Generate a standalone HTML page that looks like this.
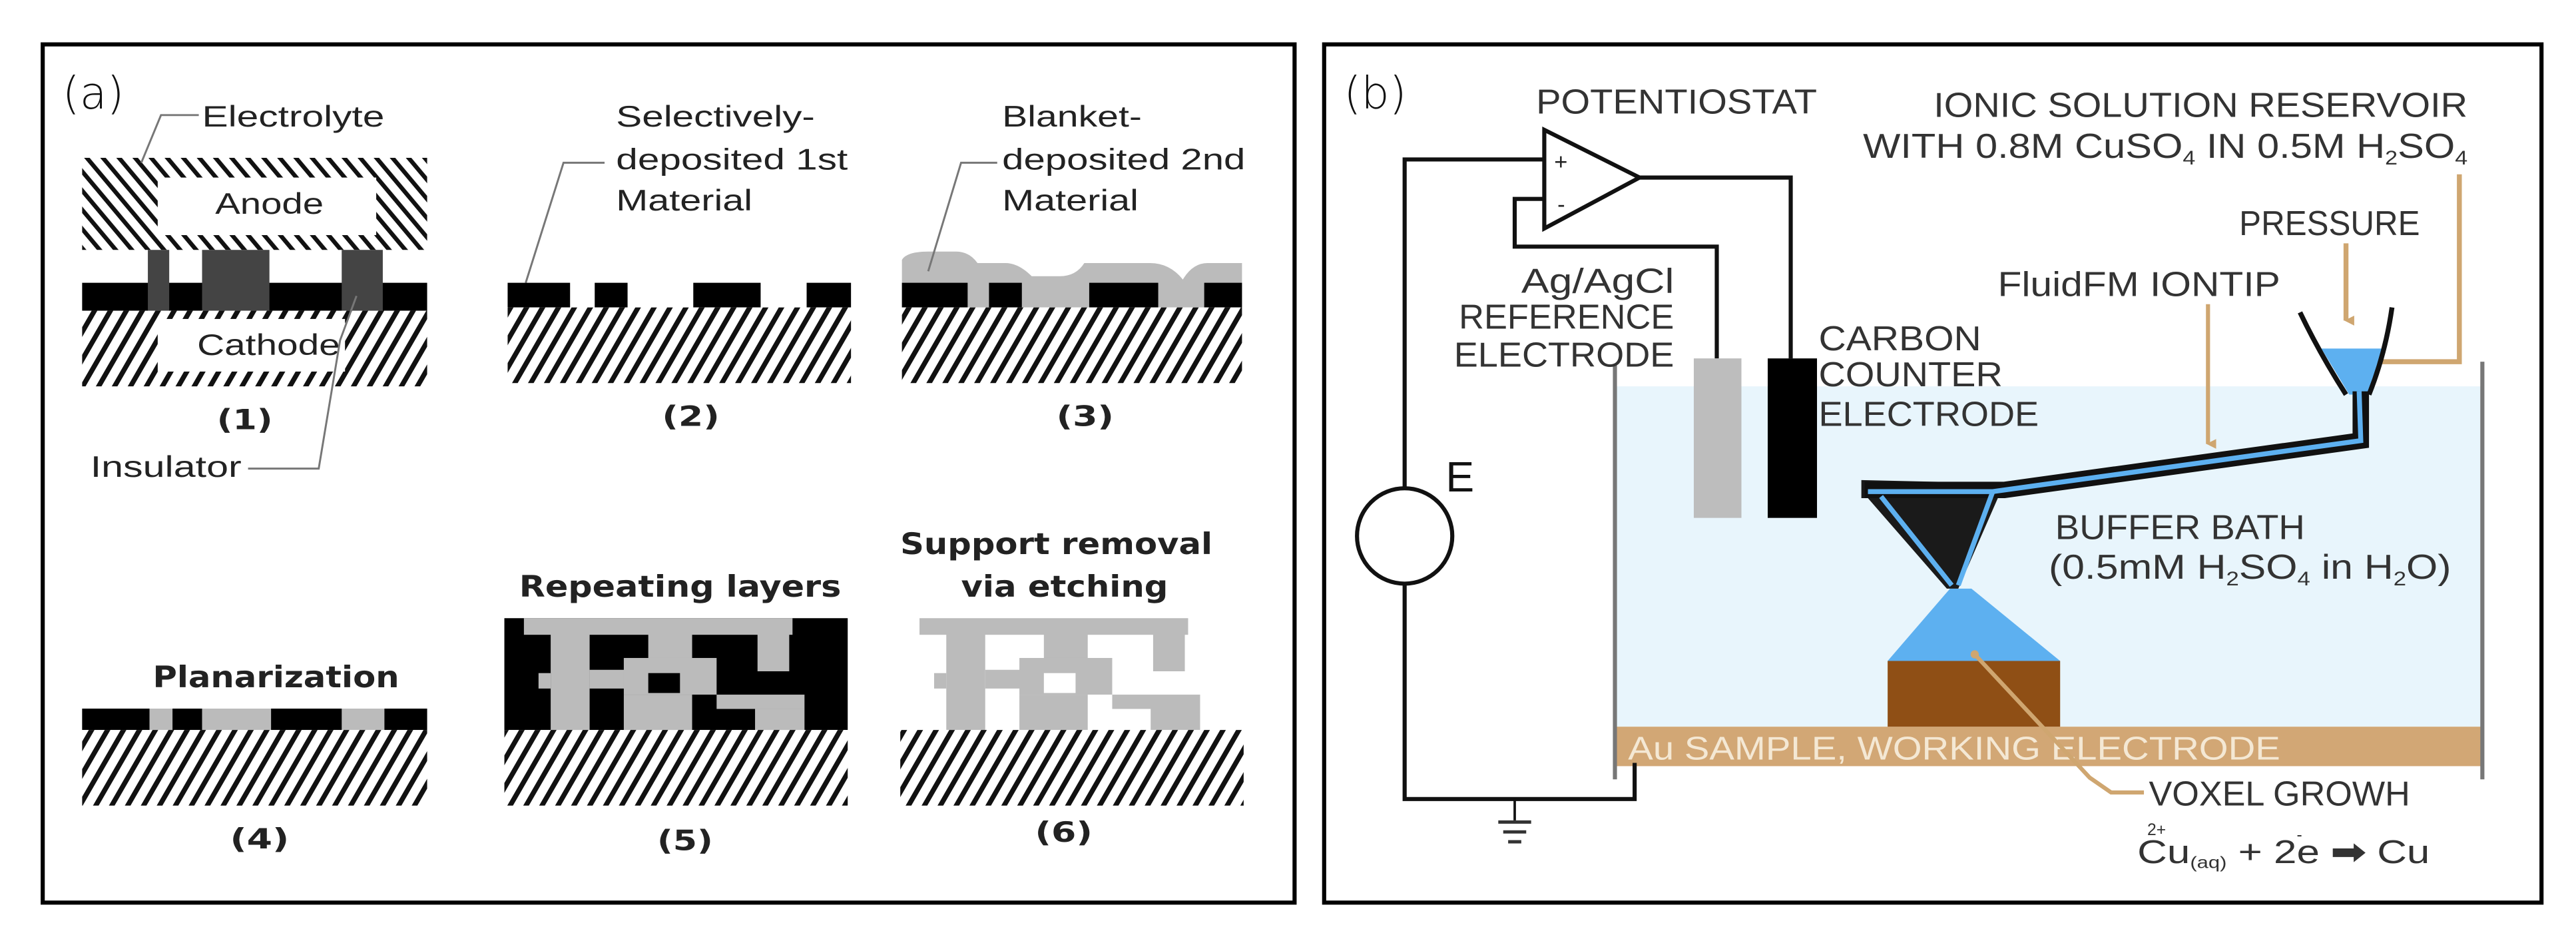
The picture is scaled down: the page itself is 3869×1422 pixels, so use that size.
<!DOCTYPE html>
<html><head><meta charset="utf-8"><style>html,body{margin:0;padding:0;background:#fff}svg{display:block}</style></head>
<body>
<svg width="3869" height="1422" viewBox="0 0 1568 576" preserveAspectRatio="none" xmlns="http://www.w3.org/2000/svg">
<defs>
<pattern id="h1" width="8.4" height="20" patternUnits="userSpaceOnUse" patternTransform="rotate(30)">
<rect width="8.4" height="20" fill="#fff"/><rect x="0" y="0" width="3" height="20" fill="#111"/></pattern>
<pattern id="h2" width="7.5" height="20" patternUnits="userSpaceOnUse" patternTransform="rotate(-40)">
<rect width="7.5" height="20" fill="#fff"/><rect x="0" y="0" width="2.6" height="20" fill="#111"/></pattern>
<marker id="ar" markerWidth="6" markerHeight="6" refX="3" refY="5" orient="auto" markerUnits="userSpaceOnUse"><path d="M0,0 L6,0 L3,6 Z" fill="#cfa670"/></marker>
</defs>
<rect width="1568" height="576" fill="#fff"/>
<rect x="26" y="27" width="762" height="522" fill="none" stroke="#000" stroke-width="2.5"/>
<rect x="806" y="27" width="741" height="522" fill="none" stroke="#000" stroke-width="2.5"/>

<g font-family="Liberation Sans, sans-serif" fill="#222">
<text x="38" y="66" font-family="DejaVu Sans, sans-serif" font-size="27" font-weight="300" fill="#111">(a)</text>
<text x="818" y="66" font-family="DejaVu Sans, sans-serif" font-size="27" font-weight="300" fill="#111">(b)</text>

<rect x="50" y="96" width="210" height="56" fill="url(#h2)"/>
<rect x="96" y="108" width="133" height="35" fill="#fff"/>
<text x="131" y="130" font-size="18" textLength="66" lengthAdjust="spacingAndGlyphs">Anode</text>
<rect x="50" y="172" width="210" height="17" fill="#000"/>
<rect x="90" y="152" width="13" height="37" fill="#444"/>
<rect x="123" y="152" width="41" height="37" fill="#444"/>
<rect x="208" y="152" width="25" height="37" fill="#444"/>
<rect x="50" y="189" width="210" height="46" fill="url(#h1)"/>
<rect x="96" y="194" width="114" height="32" fill="#fff"/>
<text x="120" y="216" font-size="18" textLength="87" lengthAdjust="spacingAndGlyphs">Cathode</text>
<text x="123" y="77" font-size="18" textLength="111" lengthAdjust="spacingAndGlyphs">Electrolyte</text>
<polyline points="121,70 98,70 86,99" fill="none" stroke="#777" stroke-width="1.2"/>
<text x="132" y="261" font-family="DejaVu Sans, sans-serif" font-weight="bold" font-size="17" textLength="34" lengthAdjust="spacingAndGlyphs">(1)</text>
<text x="55" y="290" font-size="18" textLength="92" lengthAdjust="spacingAndGlyphs">Insulator</text>
<polyline points="151,285 194,285 207,207 217,180" fill="none" stroke="#777" stroke-width="1.2"/>

<text x="375" y="77" font-size="18" textLength="121" lengthAdjust="spacingAndGlyphs">Selectively-</text>
<text x="375" y="103" font-size="18" textLength="141" lengthAdjust="spacingAndGlyphs">deposited 1st</text>
<text x="375" y="128" font-size="18" textLength="83" lengthAdjust="spacingAndGlyphs">Material</text>
<polyline points="368,99 343,99 320,172" fill="none" stroke="#777" stroke-width="1.2"/>
<rect x="309" y="172" width="38" height="15" fill="#000"/>
<rect x="362" y="172" width="20" height="15" fill="#000"/>
<rect x="422" y="172" width="41" height="15" fill="#000"/>
<rect x="491" y="172" width="27" height="15" fill="#000"/>
<rect x="309" y="187" width="209" height="46" fill="url(#h1)"/>
<text x="403" y="259" font-family="DejaVu Sans, sans-serif" font-weight="bold" font-size="17" textLength="35" lengthAdjust="spacingAndGlyphs">(2)</text>

<text x="610" y="77" font-size="18" textLength="85" lengthAdjust="spacingAndGlyphs">Blanket-</text>
<text x="610" y="103" font-size="18" textLength="148" lengthAdjust="spacingAndGlyphs">deposited 2nd</text>
<text x="610" y="128" font-size="18" textLength="83" lengthAdjust="spacingAndGlyphs">Material</text>
<path d="M549,187 L549,158 Q552,153 565,153 L582,153 Q590,153 595,160 L612,160 Q620,160 628,168 L645,168 Q655,168 660,160 L700,160 Q712,160 720,170 Q726,160 735,160 L756,160 L756,187 Z" fill="#bbb"/>
<polyline points="607,99 585,99 565,165" fill="none" stroke="#777" stroke-width="1.2"/>
<rect x="549" y="172" width="40" height="15" fill="#000"/>
<rect x="602" y="172" width="20" height="15" fill="#000"/>
<rect x="663" y="172" width="42" height="15" fill="#000"/>
<rect x="733" y="172" width="23" height="15" fill="#000"/>
<rect x="549" y="187" width="207" height="46" fill="url(#h1)"/>
<text x="643" y="259" font-family="DejaVu Sans, sans-serif" font-weight="bold" font-size="17" textLength="35" lengthAdjust="spacingAndGlyphs">(3)</text>

<text x="93" y="418" font-family="DejaVu Sans, sans-serif" font-weight="bold" font-size="18" textLength="150" lengthAdjust="spacingAndGlyphs">Planarization</text>
<rect x="50" y="431" width="210" height="13" fill="#bbb"/>
<rect x="50" y="431" width="41" height="13" fill="#000"/>
<rect x="105" y="431" width="18" height="13" fill="#000"/>
<rect x="165" y="431" width="43" height="13" fill="#000"/>
<rect x="234" y="431" width="26" height="13" fill="#000"/>
<rect x="50" y="444" width="210" height="46" fill="url(#h1)"/>
<text x="140" y="516" font-family="DejaVu Sans, sans-serif" font-weight="bold" font-size="17" textLength="36" lengthAdjust="spacingAndGlyphs">(4)</text>

<text x="316" y="363" font-family="DejaVu Sans, sans-serif" font-weight="bold" font-size="18" textLength="196" lengthAdjust="spacingAndGlyphs">Repeating layers</text>
<rect x="307" y="376" width="209" height="68" fill="#000"/>
<g fill="#bbb">
<rect x="318.9" y="376" width="163.5" height="10.1"/>
<rect x="335.2" y="386" width="23.7" height="58"/>
<rect x="327.8" y="409.4" width="7.4" height="9.4"/>
<rect x="358.9" y="407.4" width="32.7" height="11.4"/>
<rect x="394.6" y="386" width="26.7" height="14.2"/>
<rect x="379.7" y="400.2" width="56.5" height="22.3"/>
<rect x="379.7" y="422.5" width="41.6" height="21.5"/>
<rect x="461.1" y="386" width="19.3" height="22.3"/>
<rect x="436.2" y="422.5" width="53.5" height="8.7"/>
<rect x="459.6" y="431.2" width="30.1" height="12.8"/>
</g>
<rect x="394.6" y="409.4" width="19.3" height="12.1" fill="#000"/>
<rect x="307" y="444" width="209" height="46" fill="url(#h1)"/>
<text x="400" y="517" font-family="DejaVu Sans, sans-serif" font-weight="bold" font-size="17" textLength="34" lengthAdjust="spacingAndGlyphs">(5)</text>

<text x="548" y="337" font-family="DejaVu Sans, sans-serif" font-weight="bold" font-size="18" textLength="190" lengthAdjust="spacingAndGlyphs">Support removal</text>
<text x="585" y="363" font-family="DejaVu Sans, sans-serif" font-weight="bold" font-size="18" textLength="126" lengthAdjust="spacingAndGlyphs">via etching</text>
<g fill="#bbb" transform="translate(240.8,0)">
<rect x="318.9" y="376" width="163.5" height="10.1"/>
<rect x="335.2" y="386" width="23.7" height="58"/>
<rect x="327.8" y="409.4" width="7.4" height="9.4"/>
<rect x="358.9" y="407.4" width="32.7" height="11.4"/>
<rect x="394.6" y="386" width="26.7" height="14.2"/>
<rect x="379.7" y="400.2" width="56.5" height="22.3"/>
<rect x="379.7" y="422.5" width="41.6" height="21.5"/>
<rect x="461.1" y="386" width="19.3" height="22.3"/>
<rect x="436.2" y="422.5" width="53.5" height="8.7"/>
<rect x="459.6" y="431.2" width="30.1" height="12.8"/>
<rect x="394.6" y="409.4" width="19.3" height="12.1" fill="#fff"/>
</g>
<rect x="548" y="444" width="209" height="46" fill="url(#h1)"/>
<text x="630" y="512" font-family="DejaVu Sans, sans-serif" font-weight="bold" font-size="17" textLength="35" lengthAdjust="spacingAndGlyphs">(6)</text>
</g>

<g font-family="Liberation Sans Narrow, Liberation Sans, sans-serif" fill="#333">
<rect x="984" y="235" width="527" height="207" fill="#e8f5fc"/>
<rect x="984" y="442" width="527" height="24" fill="#d2a775"/>
<line x1="983" y1="222" x2="983" y2="474" stroke="#777" stroke-width="2.5"/>
<line x1="1511" y1="220" x2="1511" y2="474" stroke="#777" stroke-width="2.5"/>
<text x="991" y="462" font-size="20" fill="#f4e8d4" textLength="397" lengthAdjust="spacingAndGlyphs">Au SAMPLE, WORKING ELECTRODE</text>
<polygon points="1187,358 1200,358 1254,402 1149,402" fill="#5db0f0"/>
<rect x="1149" y="402" width="105" height="40" fill="#8f4f15"/>
<polyline points="1202,398 1272,473 1285,482 1305,482" fill="none" stroke="#cfa670" stroke-width="2.5"/>
<circle cx="1202" cy="398" r="2.5" fill="#cfa670"/>
<polygon points="940,79 940,139 998,108" fill="#fff" stroke="#111" stroke-width="2.5"/>
<text x="946" y="103" font-size="14" fill="#222">+</text>
<text x="948" y="129" font-size="14" fill="#222">-</text>
<polyline points="940,97 855,97 855,297" fill="none" stroke="#111" stroke-width="2.5"/>
<ellipse cx="855" cy="326" rx="29" ry="29" fill="#fff" stroke="#111" stroke-width="2.5"/>
<polyline points="855,355 855,486 995,486 995,464" fill="none" stroke="#111" stroke-width="2.5"/>
<line x1="922" y1="486" x2="922" y2="499" stroke="#111" stroke-width="1.5"/>
<line x1="912" y1="500" x2="932" y2="500" stroke="#333" stroke-width="2"/>
<line x1="915" y1="506" x2="929" y2="506" stroke="#333" stroke-width="2"/>
<line x1="918" y1="512" x2="926" y2="512" stroke="#333" stroke-width="2"/>
<text x="880" y="299" font-size="26" fill="#111">E</text>
<polyline points="940,121 922,121 922,150 1045,150 1045,218" fill="none" stroke="#111" stroke-width="2.5"/>
<polyline points="998,108 1090,108 1090,218" fill="none" stroke="#111" stroke-width="2.5"/>
<rect x="1031" y="218" width="29" height="97" fill="#bdbdbd"/>
<rect x="1076" y="218" width="30" height="97" fill="#000"/>
<text x="935" y="69" font-size="21" textLength="171" lengthAdjust="spacingAndGlyphs">POTENTIOSTAT</text>
<text x="1177" y="71" font-size="21" textLength="325" lengthAdjust="spacingAndGlyphs">IONIC SOLUTION RESERVOIR</text>
<text x="1134" y="96" font-size="21" textLength="368" lengthAdjust="spacingAndGlyphs">WITH 0.8M CuSO<tspan font-size="12" dy="4">4</tspan><tspan dy="-4"> IN 0.5M H</tspan><tspan font-size="12" dy="4">2</tspan><tspan dy="-4">SO</tspan><tspan font-size="12" dy="4">4</tspan></text>
<text x="926" y="178" font-size="21" textLength="93" lengthAdjust="spacingAndGlyphs">Ag/AgCl</text>
<text x="888" y="200" font-size="21" textLength="131" lengthAdjust="spacingAndGlyphs">REFERENCE</text>
<text x="885" y="223" font-size="21" textLength="134" lengthAdjust="spacingAndGlyphs">ELECTRODE</text>
<text x="1107" y="213" font-size="21" textLength="99" lengthAdjust="spacingAndGlyphs">CARBON</text>
<text x="1107" y="235" font-size="21" textLength="112" lengthAdjust="spacingAndGlyphs">COUNTER</text>
<text x="1107" y="259" font-size="21" textLength="134" lengthAdjust="spacingAndGlyphs">ELECTRODE</text>
<text x="1363" y="143" font-size="21" textLength="110" lengthAdjust="spacingAndGlyphs">PRESSURE</text>
<text x="1216" y="180" font-size="21" textLength="172" lengthAdjust="spacingAndGlyphs">FluidFM IONTIP</text>
<text x="1251" y="328" font-size="21" textLength="152" lengthAdjust="spacingAndGlyphs">BUFFER BATH</text>
<text x="1247" y="352" font-size="21" textLength="245" lengthAdjust="spacingAndGlyphs">(0.5mM H<tspan font-size="12" dy="4">2</tspan><tspan dy="-4">SO</tspan><tspan font-size="12" dy="4">4</tspan><tspan dy="-4"> in H</tspan><tspan font-size="12" dy="4">2</tspan><tspan dy="-4">O)</tspan></text>
<text x="1308" y="490" font-size="21" textLength="159" lengthAdjust="spacingAndGlyphs">VOXEL GROWH</text>
<text x="1301" y="525" font-size="20" textLength="178" lengthAdjust="spacingAndGlyphs">Cu<tspan font-size="10" dy="3">(aq)</tspan><tspan dy="-3"> + 2e</tspan> <tspan font-weight="bold">➡</tspan> Cu</text>
<text x="1307" y="508" font-size="10">2+</text>
<text x="1398" y="511" font-size="10">-</text>
<line x1="1344" y1="185" x2="1344" y2="270" stroke="#cfa670" stroke-width="2.5" marker-end="url(#ar)"/>
<line x1="1428" y1="148" x2="1428" y2="195" stroke="#cfa670" stroke-width="3" marker-end="url(#ar)"/>
<polyline points="1497,106 1497,220 1443,220" fill="none" stroke="#cfa670" stroke-width="3"/>
<polygon points="1413,212 1451,212 1441,240 1430,240" fill="#5db0f0"/>
<path d="M1400,190 Q1412,215 1428,240" fill="none" stroke="#111" stroke-width="3"/>
<path d="M1456,187 Q1452,215 1442,240" fill="none" stroke="#111" stroke-width="3"/>
<polygon points="1133,292 1220,294 1192,358 1185,358 1137,303 1133,303" fill="#1a1a1a"/>
<polyline points="1135,298 1220,298 1437,268 1437,238" fill="none" stroke="#111" stroke-width="10" stroke-linejoin="miter"/>
<polyline points="1137,299 1213,299 1437,268 1436,238" fill="none" stroke="#5db0f0" stroke-width="3"/>
<polyline points="1145,302 1188,356" fill="none" stroke="#5db0f0" stroke-width="3"/>
<polyline points="1213,299 1192,356" fill="none" stroke="#5db0f0" stroke-width="3"/>
</g>
</svg>
</body></html>
